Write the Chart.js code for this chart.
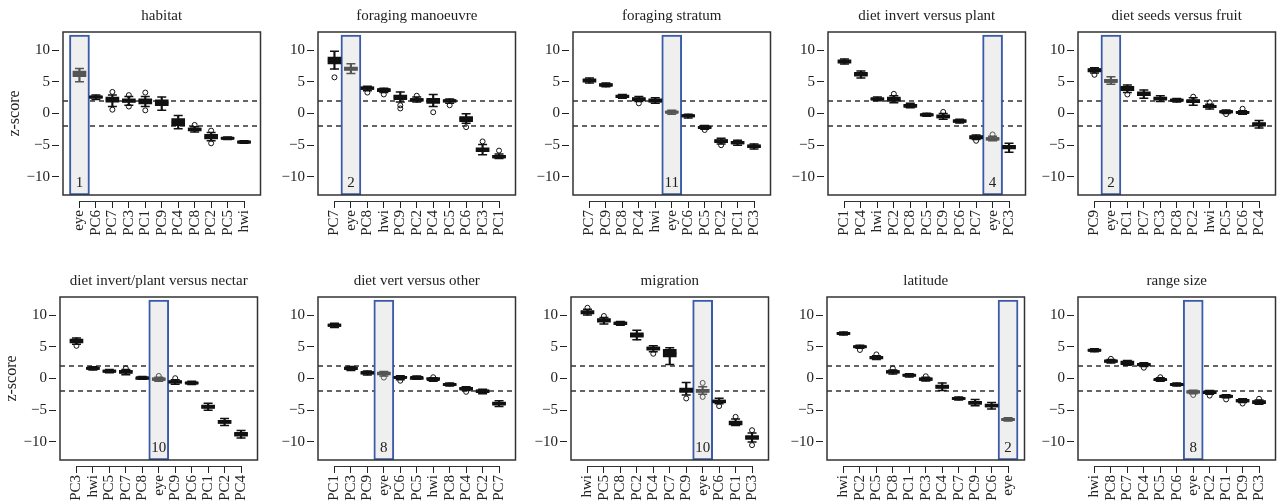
<!DOCTYPE html>
<html>
<head>
<meta charset="utf-8">
<script src="https://cdn.jsdelivr.net/npm/chart.js@4"></script>
<style>
  html, body { margin: 0; padding: 0; background: #fff; overflow: hidden; }
  body { width: 1283px; height: 501px; position: relative; }
  canvas { position: absolute; }
</style>
</head>
<body>
<script>
// each box: [low whisker, q1, median, q3, high whisker]
const habitatLabels = ['eye', 'PC6', 'PC7', 'PC3', 'PC1', 'PC9', 'PC4', 'PC8', 'PC2', 'PC5', 'hwi'];
const habitatBoxes = [[5.0, 5.8, 6.2, 6.7, 7.1], [2.2, 2.4, 2.6, 2.75, 2.9], [1.1, 1.8, 2.2, 2.6, 2.9], [1.3, 1.75, 2.0, 2.3, 2.7],
  [1.1, 1.5, 2.0, 2.3, 2.7], [0.5, 1.25, 1.7, 2.15, 2.6], [-2.4, -1.9, -1.4, -0.8, -0.3], [-2.9, -2.75, -2.5, -2.3, -2.1],
  [-4.3, -4.0, -3.7, -3.3, -3.0], [-4.1, -4.0, -3.9, -3.75, -3.7], [-4.7, -4.6, -4.5, -4.35, -4.3]];
const habitatOutliers = [[], [], [3.4, 0.6], [2.9, 1.1], [3.3, 0.5], [], [], [-1.8], [-2.7, -4.7], [], []];

const manoeuvreLabels = ['PC7', 'eye', 'PC8', 'hwi', 'PC9', 'PC2', 'PC4', 'PC5', 'PC6', 'PC3', 'PC1'];
const manoeuvreBoxes = [[7.0, 7.8, 8.4, 8.9, 9.8], [6.3, 6.8, 7.05, 7.3, 7.85], [3.6, 3.8, 4.0, 4.2, 4.3], [3.3, 3.45, 3.75, 3.9, 4.0],
  [1.8, 2.2, 2.6, 2.9, 3.4], [1.8, 1.95, 2.15, 2.35, 2.6], [1.1, 1.6, 2.0, 2.4, 3.0], [1.6, 1.8, 2.0, 2.15, 2.3],
  [-1.55, -1.3, -0.85, -0.5, -0.05], [-6.5, -6.0, -5.75, -5.4, -4.9], [-7.1, -7.0, -6.8, -6.6, -6.4]];
const manoeuvreOutliers = [[5.7], [], [3.3], [3.0], [1.3, 0.8], [2.8], [0.2], [1.3], [-2.15], [-4.4], [-5.85]];

const stratumLabels = ['PC7', 'PC9', 'PC8', 'PC4', 'hwi', 'eye', 'PC6', 'PC5', 'PC2', 'PC1', 'PC3'];
const stratumBoxes = [[4.8, 4.95, 5.2, 5.45, 5.6], [4.2, 4.3, 4.5, 4.7, 4.8], [2.4, 2.5, 2.7, 2.9, 3.0], [1.9, 2.0, 2.25, 2.5, 2.7],
  [1.6, 1.8, 2.0, 2.3, 2.5], [-0.1, 0.0, 0.2, 0.4, 0.5], [-0.7, -0.55, -0.35, -0.2, -0.1], [-2.5, -2.35, -2.2, -2.05, -1.9],
  [-4.8, -4.6, -4.35, -4.1, -3.9], [-5.0, -4.8, -4.6, -4.4, -4.2], [-5.6, -5.4, -5.15, -4.95, -4.8]];
const stratumOutliers = [[], [], [], [1.6], [], [], [], [-2.6], [-5.0], [], []];

const invertPlantLabels = ['PC1', 'PC4', 'hwi', 'PC2', 'PC8', 'PC5', 'PC9', 'PC6', 'PC7', 'eye', 'PC3'];
const invertPlantBoxes = [[7.8, 7.95, 8.2, 8.45, 8.6], [5.6, 5.9, 6.2, 6.5, 6.7], [2.0, 2.15, 2.3, 2.45, 2.6], [1.7, 1.9, 2.2, 2.6, 2.8],
  [0.9, 1.0, 1.2, 1.45, 1.6], [-0.45, -0.35, -0.2, -0.05, 0.05], [-0.9, -0.7, -0.5, -0.2, 0.0], [-1.5, -1.4, -1.2, -1.0, -0.9],
  [-4.1, -4.0, -3.75, -3.5, -3.4], [-4.3, -4.2, -4.0, -3.8, -3.6], [-6.1, -5.6, -5.3, -5.0, -4.7]];
const invertPlantOutliers = [[], [], [], [3.1], [], [], [0.25], [], [-4.3], [-3.3], []];

const seedsFruitLabels = ['PC9', 'eye', 'PC1', 'PC7', 'PC3', 'PC8', 'PC2', 'hwi', 'PC5', 'PC6', 'PC4'];
const seedsFruitBoxes = [[6.4, 6.55, 6.85, 7.1, 7.2], [4.6, 4.9, 5.1, 5.4, 5.8], [3.3, 3.6, 3.95, 4.3, 4.5], [2.4, 2.8, 3.05, 3.4, 3.7],
  [1.9, 2.1, 2.35, 2.6, 2.8], [1.8, 1.95, 2.1, 2.25, 2.35], [1.3, 1.7, 1.95, 2.2, 2.5], [0.7, 0.9, 1.1, 1.3, 1.45],
  [0.0, 0.1, 0.26, 0.45, 0.55], [-0.1, 0.0, 0.15, 0.35, 0.45], [-2.3, -2.0, -1.7, -1.45, -1.1]];
const seedsFruitOutliers = [[6.1], [], [3.0], [], [], [], [2.65], [1.75], [-0.1], [0.75], []];

const nectarLabels = ['PC3', 'hwi', 'PC5', 'PC7', 'PC8', 'eye', 'PC9', 'PC6', 'PC1', 'PC2', 'PC4'];
const nectarBoxes = [[5.4, 5.6, 5.9, 6.2, 6.4], [1.35, 1.45, 1.6, 1.75, 1.85], [0.9, 1.0, 1.15, 1.3, 1.4], [0.6, 0.8, 1.05, 1.3, 1.4],
  [-0.1, 0.0, 0.1, 0.2, 0.3], [-0.45, -0.3, -0.1, 0.1, 0.2], [-0.9, -0.75, -0.5, -0.35, -0.2], [-0.95, -0.85, -0.7, -0.55, -0.45],
  [-5.0, -4.7, -4.45, -4.2, -3.9], [-7.4, -7.1, -6.85, -6.6, -6.3], [-9.4, -9.1, -8.8, -8.5, -8.2]];
const nectarOutliers = [[5.15], [], [], [1.6], [], [0.4], [0.05], [], [], [], []];

const vertLabels = ['PC1', 'PC3', 'PC9', 'eye', 'PC6', 'PC5', 'hwi', 'PC8', 'PC4', 'PC2', 'PC7'];
const vertBoxes = [[8.05, 8.2, 8.4, 8.6, 8.7], [1.25, 1.4, 1.6, 1.8, 1.9], [0.55, 0.7, 0.9, 1.1, 1.2], [0.4, 0.55, 0.8, 1.0, 1.1],
  [-0.2, 0.0, 0.15, 0.35, 0.45], [-0.1, 0.0, 0.15, 0.3, 0.4], [-0.45, -0.3, -0.15, 0.0, 0.1], [-1.2, -1.1, -0.95, -0.8, -0.7],
  [-1.9, -1.8, -1.6, -1.4, -1.3], [-2.4, -2.25, -2.0, -1.8, -1.7], [-4.4, -4.2, -3.95, -3.7, -3.5]];
const vertOutliers = [[], [], [], [0.15], [-0.35], [], [0.2], [], [-2.1], [], []];

const migrationLabels = ['hwi', 'PC5', 'PC8', 'PC2', 'PC4', 'PC7', 'PC9', 'eye', 'PC6', 'PC1', 'PC3'];
const migrationBoxes = [[10.0, 10.2, 10.4, 10.7, 10.9], [8.6, 8.9, 9.2, 9.45, 9.6], [8.4, 8.5, 8.7, 8.9, 9.0], [6.1, 6.5, 6.85, 7.2, 7.6],
  [4.2, 4.45, 4.75, 4.95, 5.15], [2.2, 3.4, 3.95, 4.6, 4.85], [-2.6, -2.2, -1.85, -1.5, -0.65], [-2.5, -2.2, -1.95, -1.7, -1.3],
  [-4.0, -3.85, -3.6, -3.4, -3.1], [-7.4, -7.3, -7.0, -6.7, -6.4], [-10.0, -9.6, -9.3, -9.0, -8.6]];
const migrationOutliers = [[11.15], [9.85], [], [], [3.9], [], [-3.15], [-0.7, -2.9], [-4.35], [-6.05], [-8.15, -10.5]];

const latitudeLabels = ['hwi', 'PC2', 'PC5', 'PC8', 'PC1', 'PC3', 'PC4', 'PC7', 'PC9', 'PC6', 'eye'];
const latitudeBoxes = [[6.85, 6.95, 7.1, 7.25, 7.35], [4.75, 4.85, 5.0, 5.15, 5.25], [3.0, 3.1, 3.3, 3.5, 3.6], [0.7, 0.85, 1.05, 1.25, 1.35],
  [0.25, 0.35, 0.5, 0.65, 0.75], [-0.4, -0.3, -0.1, 0.1, 0.2], [-1.9, -1.55, -1.3, -1.05, -0.7], [-3.4, -3.3, -3.15, -3.0, -2.9],
  [-4.3, -4.05, -3.85, -3.6, -3.3], [-4.8, -4.5, -4.3, -4.05, -3.8], [-6.7, -6.6, -6.45, -6.3, -6.2]];
const latitudeOutliers = [[], [4.5], [3.8], [1.6], [], [0.35], [], [], [], [], []];

const rangeLabels = ['hwi', 'PC8', 'PC7', 'PC4', 'PC5', 'PC6', 'eye', 'PC2', 'PC1', 'PC9', 'PC3'];
const rangeBoxes = [[4.2, 4.3, 4.45, 4.6, 4.7], [2.45, 2.55, 2.75, 2.9, 3.0], [2.1, 2.2, 2.5, 2.75, 2.85], [1.9, 2.0, 2.2, 2.4, 2.5],
  [-0.45, -0.35, -0.15, 0.0, 0.1], [-1.2, -1.1, -0.95, -0.8, -0.7], [-2.4, -2.3, -2.1, -1.95, -1.85], [-2.5, -2.4, -2.2, -2.0, -1.9],
  [-3.05, -2.95, -2.8, -2.65, -2.55], [-3.8, -3.7, -3.5, -3.3, -3.2], [-4.05, -3.95, -3.75, -3.5, -3.4]];
const rangeOutliers = [[], [3.1], [], [1.7], [0.2], [], [-2.6], [-2.7], [-3.3], [-3.95], [-3.2]];

const panelTitles = ['habitat', 'foraging manoeuvre', 'foraging stratum', 'diet invert versus plant', 'diet seeds versus fruit',
  'diet invert/plant versus nectar', 'diet vert versus other', 'migration', 'latitude', 'range size'];
const eyeCounts = [1, 2, 11, 4, 2, 10, 8, 10, 2, 8];
const yTicks = [-10, -5, 0, 5, 10];
const critical = 1.96;

const panelLabels = [habitatLabels, manoeuvreLabels, stratumLabels, invertPlantLabels, seedsFruitLabels,
  nectarLabels, vertLabels, migrationLabels, latitudeLabels, rangeLabels];
const panelBoxes = [habitatBoxes, manoeuvreBoxes, stratumBoxes, invertPlantBoxes, seedsFruitBoxes,
  nectarBoxes, vertBoxes, migrationBoxes, latitudeBoxes, rangeBoxes];
const panelOutliers = [habitatOutliers, manoeuvreOutliers, stratumOutliers, invertPlantOutliers, seedsFruitOutliers,
  nectarOutliers, vertOutliers, migrationOutliers, latitudeOutliers, rangeOutliers];

// layout
const frameLefts = [[63, 318, 573, 828, 1078], [60, 318, 571, 827, 1078]];
const rowTops = [0, 265];
const rowHeights = [250, 236];
const yAxisW = 60, plotW = 204, plotH = 163, titleH = 32, padRight = 3;
const serif = '"Liberation Serif", "Times New Roman", serif';
const ink = '#111', eyeInk = '#555';

const framePlugin = {
  id: 'frame',
  afterDraw(chart, args, opts) {
    const { ctx, chartArea: a, scales } = chart;
    ctx.save();
    ctx.strokeStyle = '#333';
    ctx.lineWidth = 1.5;
    ctx.strokeRect(a.left, a.top, a.right - a.left, a.bottom - a.top);
    ctx.lineWidth = 1;
    ctx.beginPath();
    const ly = Math.round(a.bottom + 6) + 0.5;
    ctx.moveTo(scales.x.getPixelForValue(1), ly);
    ctx.lineTo(scales.x.getPixelForValue(opts.n), ly);
    ctx.stroke();
    ctx.fillStyle = '#222';
    ctx.textAlign = 'center';
    ctx.textBaseline = 'middle';
    ctx.font = '15px ' + serif;
    ctx.fillText(opts.title, (a.left + a.right) / 2, a.top - 16);
    ctx.fillText(String(opts.count), scales.x.getPixelForValue(opts.eyeX), scales.y.getPixelForValue(-10.9));
    ctx.restore();
  }
};

panelTitles.forEach((title, p) => {
  const row = Math.floor(p / 5), col = p % 5;
  const labels = panelLabels[p], boxes = panelBoxes[p], outliers = panelOutliers[p];
  const eyeX = labels.indexOf('eye') + 1;
  const colorAt = x => (labels[x - 1] === 'eye' ? eyeInk : ink);

  const canvas = document.createElement('canvas');
  const w = yAxisW + plotW + padRight, h = rowHeights[row];
  canvas.width = w;
  canvas.height = h;
  canvas.style.left = (frameLefts[row][col] - yAxisW) + 'px';
  canvas.style.top = rowTops[row] + 'px';
  document.body.appendChild(canvas);

  const n = labels.length;
  const byPoint = ctx => (ctx.raw ? colorAt(ctx.raw.x) : ink);
  const caps = [], outPts = [];
  boxes.forEach((b, i) => { caps.push({ x: i + 1, y: b[0] }, { x: i + 1, y: b[4] }); });
  outliers.forEach((o, i) => o.forEach(v => outPts.push({ x: i + 1, y: v })));

  new Chart(canvas, {
    type: 'bar',
    data: {
      datasets: [
        { type: 'line', data: [{ x: 0, y: critical }, { x: n + 1, y: critical }], borderColor: '#333', borderWidth: 1.5,
          borderDash: [5, 4], pointRadius: 0, order: 10 },
        { type: 'line', data: [{ x: 0, y: -critical }, { x: n + 1, y: -critical }], borderColor: '#333', borderWidth: 1.5,
          borderDash: [5, 4], pointRadius: 0, order: 10 },
        { data: [{ x: eyeX, y: [-12.85, 12.35] }], barThickness: 20, backgroundColor: '#efefef', borderColor: '#3a5ba8',
          borderWidth: 2, borderSkipped: false, grouped: false, order: 9 },
        { data: boxes.map((b, i) => ({ x: i + 1, y: [b[0], b[4]] })), barThickness: 1.5, backgroundColor: byPoint,
          grouped: false, order: 5 },
        { data: boxes.map((b, i) => ({ x: i + 1, y: [b[1], b[3]] })), barThickness: 13, backgroundColor: byPoint,
          minBarLength: 2, grouped: false, order: 4 },
        { type: 'line', showLine: false, data: boxes.map((b, i) => ({ x: i + 1, y: b[2] })), pointStyle: 'line',
          pointRadius: 6.5, pointBorderWidth: 3, pointBorderColor: byPoint, order: 3 },
        { type: 'line', showLine: false, data: caps, pointStyle: 'line', pointRadius: 4.5, pointBorderWidth: 1.5,
          pointBorderColor: byPoint, order: 3 },
        { type: 'line', showLine: false, data: outPts, pointStyle: 'circle', pointRadius: 2.5, pointBorderWidth: 1,
          pointBorderColor: byPoint, pointBackgroundColor: 'rgba(0,0,0,0)', order: 2 }
      ]
    },
    options: {
      responsive: false,
      animation: false,
      events: [],
      layout: { padding: { left: 0, right: padRight, top: titleH, bottom: 0 } },
      plugins: {
        legend: { display: false },
        tooltip: { enabled: false },
        title: { display: false },
        frame: { count: eyeCounts[p], eyeX: eyeX, n: n, title: title }
      },
      scales: {
        x: {
          type: 'linear', min: 0, max: n + 1, offset: false,
          afterBuildTicks: s => { s.ticks = labels.map((l, i) => ({ value: i + 1 })); },
          afterFit: s => { s.height = h - titleH - plotH; s.paddingLeft = 0; s.paddingRight = 0; },
          border: { display: false },
          grid: { offset: false, drawOnChartArea: false, tickLength: 13, tickColor: '#222', tickWidth: 1,
            tickBorderDash: [0, 6, 7, 100] },
          ticks: { autoSkip: false, minRotation: 90, maxRotation: 90, padding: 2, color: '#222',
            font: { family: serif, size: 15 }, callback: v => labels[v - 1] }
        },
        y: {
          min: -12.85, max: 12.85,
          afterBuildTicks: s => { s.ticks = yTicks.map(v => ({ value: v })); },
          afterFit: s => { s.width = yAxisW; s.paddingTop = 0; s.paddingBottom = 0; },
          border: { display: false },
          grid: { drawOnChartArea: false, tickLength: 11, tickColor: '#222', tickWidth: 1, tickBorderDash: [7, 100] },
          ticks: { padding: 2, color: '#222', font: { family: serif, size: 15 },
            callback: v => String(v).replace('-', '\u2212') },
          title: { display: col === 0, text: 'z-score', color: '#222', font: { family: serif, size: 16 },
            padding: { top: 2, bottom: 0 } }
        }
      }
    },
    plugins: [framePlugin]
  });
});
</script>
</body>
</html>
